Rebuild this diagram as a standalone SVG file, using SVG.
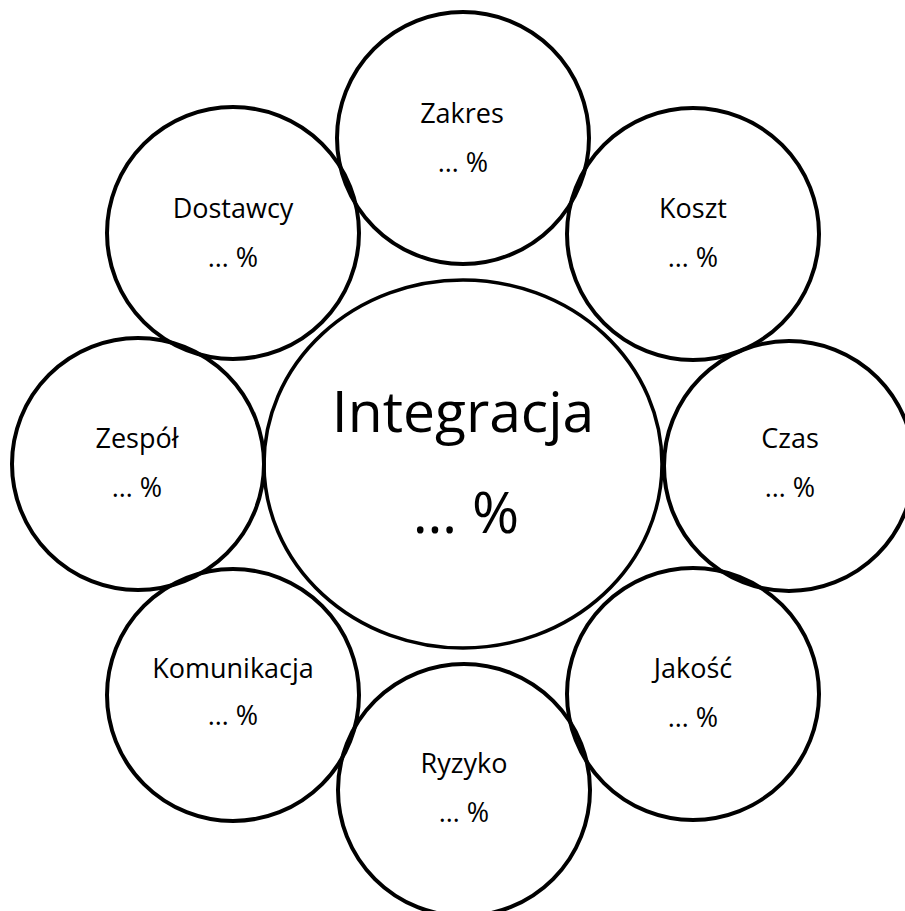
<svg xmlns="http://www.w3.org/2000/svg" width="905" height="911" viewBox="0 0 905 911">
<style>
  .c { fill: none; stroke: #000; stroke-width: 4; }
  .e { fill: none; stroke: #000; stroke-width: 3.5; }
  text { font-family: "Open Sans", "Noto Sans", sans-serif; fill: #000; text-anchor: middle; }
  .s { font-size: 27px; }
  .b { font-size: 57px; }
</style>
<rect width="905" height="911" fill="#fff"/>
<g id="integracja">
  <ellipse class="e" cx="463" cy="464" rx="199" ry="184"/>
  <text class="b" x="463" y="432">Integracja</text>
  <text class="b" x="466" y="533">… %</text>
</g>
<g id="zakres">
  <circle class="c" cx="463" cy="138" r="126"/>
  <text class="s" x="462" y="123">Zakres</text>
  <text class="s" x="463" y="172">… %</text>
</g>
<g id="koszt">
  <circle class="c" cx="693" cy="234" r="126"/>
  <text class="s" x="693" y="218">Koszt</text>
  <text class="s" x="693" y="267">… %</text>
</g>
<g id="czas">
  <circle class="c" cx="789" cy="466" r="125"/>
  <text class="s" x="790" y="448">Czas</text>
  <text class="s" x="790" y="497">… %</text>
</g>
<g id="jakosc">
  <circle class="c" cx="693" cy="694" r="126"/>
  <text class="s" x="693" y="678">Jakość</text>
  <text class="s" x="693" y="727">… %</text>
</g>
<g id="ryzyko">
  <circle class="c" cx="464" cy="790" r="126"/>
  <text class="s" x="464" y="773">Ryzyko</text>
  <text class="s" x="464" y="822">… %</text>
</g>
<g id="komunikacja">
  <circle class="c" cx="233" cy="695" r="126"/>
  <text class="s" x="233" y="678">Komunikacja</text>
  <text class="s" x="233" y="725">… %</text>
</g>
<g id="zespol">
  <circle class="c" cx="138" cy="464" r="126"/>
  <text class="s" x="137" y="448">Zespół</text>
  <text class="s" x="137" y="497">… %</text>
</g>
<g id="dostawcy">
  <circle class="c" cx="233" cy="233" r="126"/>
  <text class="s" x="233" y="218">Dostawcy</text>
  <text class="s" x="233" y="267">… %</text>
</g>
</svg>
